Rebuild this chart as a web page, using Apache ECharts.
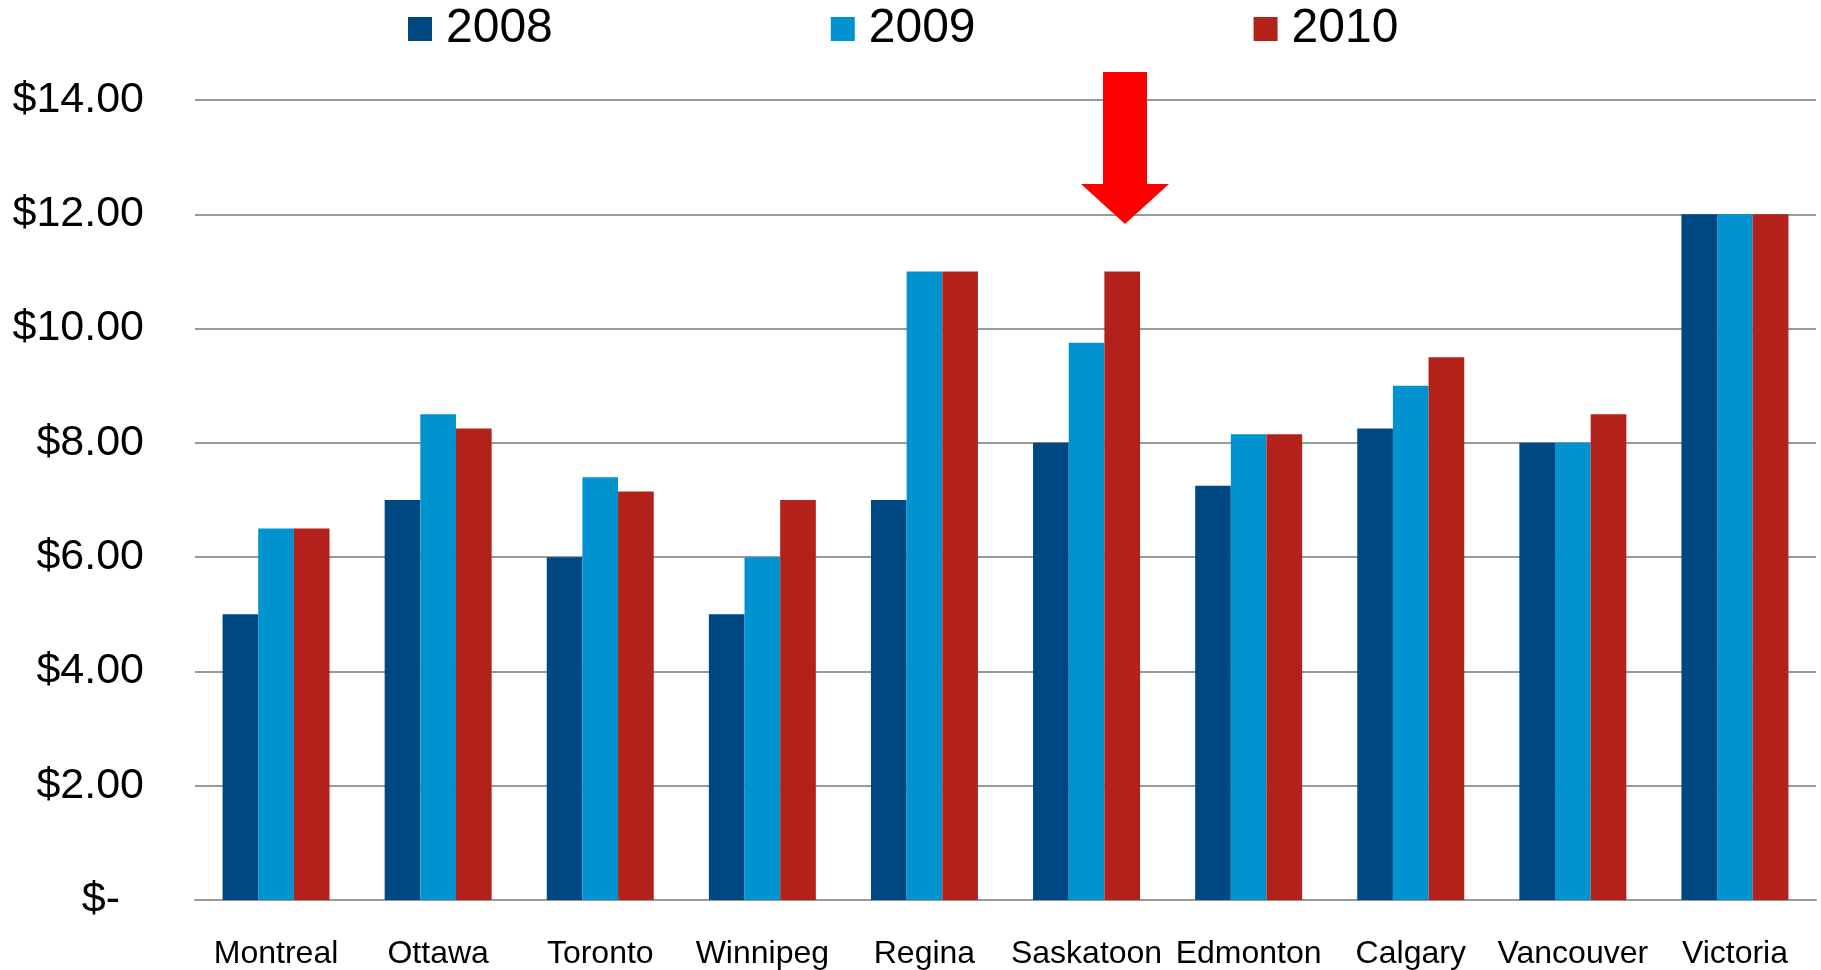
<!DOCTYPE html>
<html>
<head>
<meta charset="utf-8">
<script src="https://cdn.jsdelivr.net/npm/echarts@6/dist/echarts.min.js"></script>
<style>
  html, body { margin: 0; padding: 0; background: #fff; }
  #chart { width: 1821px; height: 970px; }
</style>
</head>
<body>
<div id="chart"></div>
<script>
// cities on the x axis
var cities = ['Montreal', 'Ottawa', 'Toronto', 'Winnipeg', 'Regina', 'Saskatoon', 'Edmonton', 'Calgary', 'Vancouver', 'Victoria']
var years = ['2008', '2009', '2010']
// values per year
var fares2008 = [5, 7, 6, 5, 7, 8, 7.25, 8.25, 8, 12]
var fares2009 = [6.5, 8.5, 7.4, 6, 11, 9.75, 8.15, 9, 8, 12]
var fares2010 = [6.5, 8.25, 7.15, 7, 11, 11, 8.15, 9.5, 8.5, 12]
var colors = ['#004882', '#0093d0', '#b3221a']

var font = 'Liberation Sans, Arial, sans-serif'
var chart = echarts.init(document.getElementById('chart'))

function barSeries(name, data, idx) {
  return {
    name: name,
    type: 'bar',
    data: data,
    barGap: '0%',
    barCategoryGap: '34%',
    itemStyle: { color: colors[idx] },
    animation: false
  }
}

chart.setOption({
  animation: false,
  color: colors,
  legend: {
    data: years,
    left: 403,
    top: 0,
    icon: 'rect',
    itemWidth: 24,
    itemHeight: 24,
    itemGap: 278,
    textStyle: {
      fontFamily: font,
      fontSize: 48,
      color: '#000',
      lineHeight: 24,
      padding: [0, 0, 0, 9]
    }
  },
  grid: {
    left: 195,
    right: 5,
    top: 100,
    bottom: 69
  },
  xAxis: {
    type: 'category',
    data: cities,
    axisTick: { show: false },
    axisLine: { lineStyle: { color: '#999', width: 2 } },
    axisLabel: {
      fontFamily: font,
      fontSize: 32,
      color: '#000',
      margin: 38,
      interval: 0
    }
  },
  yAxis: {
    type: 'value',
    min: 0,
    max: 14,
    interval: 2,
    axisLine: { show: false },
    axisTick: { show: false },
    splitLine: { lineStyle: { color: '#999', width: 2 } },
    axisLabel: {
      fontFamily: font,
      fontSize: 43,
      color: '#000',
      margin: 51,
      formatter: function (v) {
        return v === 0 ? '$-  ' : '$' + v.toFixed(2)
      }
    }
  },
  series: [
    barSeries('2008', fares2008, 0),
    barSeries('2009', fares2009, 1),
    barSeries('2010', fares2010, 2)
  ],
  graphic: [
    {
      // red arrow pointing at Saskatoon 2010
      type: 'polygon',
      z: 100,
      shape: {
        points: [[1103, 72], [1147, 72], [1147, 184], [1169, 184], [1125, 224], [1081, 184], [1103, 184]]
      },
      style: { fill: '#ff0000' }
    }
  ]
})
</script>
</body>
</html>
